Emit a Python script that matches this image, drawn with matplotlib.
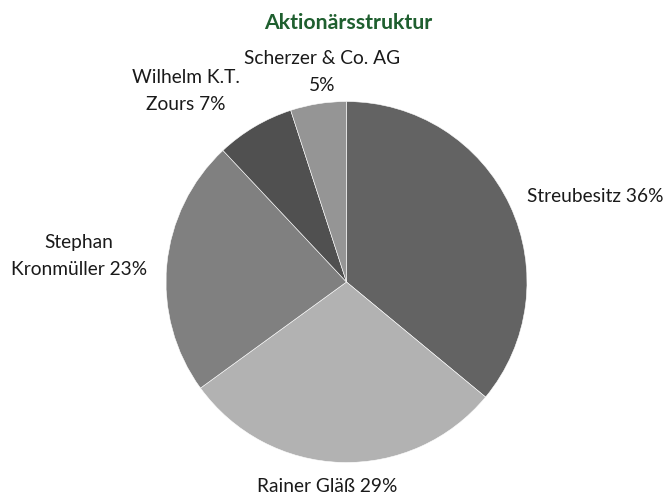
import matplotlib
matplotlib.use("Agg")
import matplotlib.pyplot as plt

labels = ["Streubesitz", "Rainer Gläß", "Stephan\nKronmüller", "Wilhelm K.T.\nZours", "Scherzer & Co. AG\n"]
values = [36, 29, 23, 7, 5]
colors = ["#636363", "#b2b2b2", "#808080", "#505050", "#959595"]
title = "Aktionärsstruktur"

plt.rcParams['font.family'] = ['Lato', 'DejaVu Sans']

W, H = 668, 497
fig = plt.figure(figsize=(W / 100, H / 100), dpi=100)
ax = fig.add_axes([0, 0, 1, 1])
ax.set_xlim(0, W)
ax.set_ylim(H, 0)
ax.axis('off')

# pie drawn in its own axes (equal aspect), positioned in pixel space
cx, cy, r = 346.5, 282, 180.5
pax = fig.add_axes([(cx - r) / W, (H - cy - r) / H, 2 * r / W, 2 * r / H])
pax.pie(values, colors=colors, startangle=90, counterclock=False,
        wedgeprops=dict(edgecolor='white', linewidth=0.4))
pax.set_xlim(-1, 1)
pax.set_ylim(-1, 1)
pax.axis('off')

fs = 13.8
# label positions (pixels) and alignment
pos = [
    (527, 196, 'left'),
    (327, 486, 'center'),
    (79, 256, 'center'),
    (186, 91, 'center'),
    (322, 72, 'center'),
]
for lab, v, (x, y, ha) in zip(labels, values, pos):
    if lab.endswith("\n"):
        txt = f"{lab}{v}%"
    else:
        txt = f"{lab} {v}%"
    ax.text(x, y, txt, ha=ha, va='center', fontsize=fs, color='#1a1a1a',
            linespacing=1.65, multialignment='center')

ax.text(348, 23, title, ha='center', va='center', fontsize=15.3,
        fontweight='bold', color='#1f5f2f')

fig.savefig("out.png", dpi=100)
